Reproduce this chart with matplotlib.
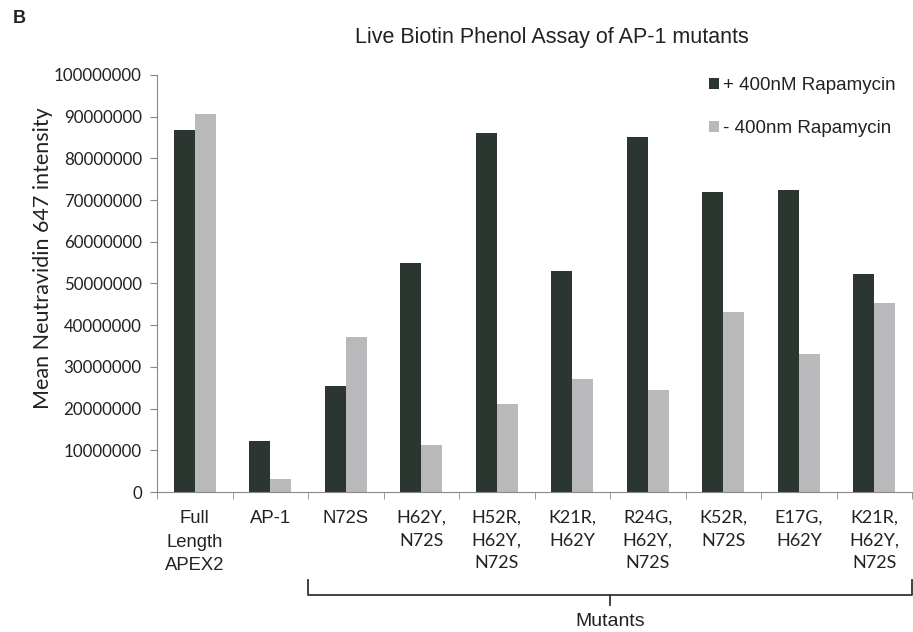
import numpy as np
import matplotlib.pyplot as plt
from matplotlib.transforms import blended_transform_factory

categories = ['Full\nLength\nAPEX2', 'AP-1', 'N72S', 'H62Y,\nN72S', 'H52R,\nH62Y,\nN72S',
              'K21R,\nH62Y', 'R24G,\nH62Y,\nN72S', 'K52R,\nN72S', 'E17G,\nH62Y', 'K21R,\nH62Y,\nN72S']
with_rapa = [86800000, 12200000, 25500000, 55000000, 86000000, 53000000, 85000000, 72000000, 72500000, 52200000]
without_rapa = [90700000, 3200000, 37200000, 11200000, 21200000, 27000000, 24500000, 43200000, 33200000, 45300000]
yticks = np.arange(0, 100000001, 10000000)

dark = '#2b3630'
light = '#b9b9bb'
arial = 'Liberation Sans'
cal = 'Lato'

fig = plt.figure(figsize=(9.13, 6.32), dpi=100)
ax = fig.add_axes([0.172, 0.2215, 0.827, 0.66])

x = np.arange(len(categories))
w = 0.28
ax.bar(x - w / 2, with_rapa, w, color=dark, label='+ 400nM Rapamycin')
ax.bar(x + w / 2, without_rapa, w, color=light, label='- 400nm Rapamycin')

ax.set_xlim(-0.5, len(categories) - 0.5)
ax.set_ylim(0, 100000000)
ax.set_yticks(yticks)
ax.set_yticklabels([str(v) for v in yticks], fontfamily=cal, fontsize=12.2, color='#222222')
ax.set_xticks(x)
ax.set_xticklabels(categories, color='#222222', linespacing=1.5)
for i, lab in enumerate(ax.get_xticklabels()):
    if i < 3:
        lab.set_fontfamily(arial)
        lab.set_fontsize(13.3)
    else:
        lab.set_fontfamily(cal)
        lab.set_fontsize(13)
ax.set_xticks(np.arange(-0.5, len(categories)), minor=True)
ax.tick_params(axis='x', which='major', length=0, pad=13)
ax.tick_params(axis='x', which='minor', length=5, color='#888888')
ax.tick_params(axis='y', length=5, color='#888888', pad=6)

for s in ['top', 'right']:
    ax.spines[s].set_visible(False)
for s in ['left', 'bottom']:
    ax.spines[s].set_color('#888888')

fig.text(0.047, 1 - 258 / 632, 'Mean Neutravidin 647 intensity', rotation=90, ha='center', va='center',
         fontfamily=cal, fontsize=15.5, color='#222222')
fig.text(0.604, 0.94, 'Live Biotin Phenol Assay of AP-1 mutants', ha='center', va='center',
         fontfamily=arial, fontsize=15.5, color='#222222')
fig.text(0.014, 0.97, 'B', ha='left', va='center', fontfamily=arial, fontsize=13,
         fontweight='bold', color='#222222')

leg = ax.legend(loc='upper right', bbox_to_anchor=(1.0, 1.035), frameon=False,
                prop={'family': arial, 'size': 13.5}, handlelength=0.5, handleheight=0.5,
                handletextpad=0.2, labelspacing=1.4, labelcolor='#222222')

# bracket for the mutants
tr = blended_transform_factory(ax.transData, fig.transFigure)
y_line = 1 - 595 / 632
y_top = 1 - 580 / 632
y_stem = 1 - 605 / 632
ax.plot([1.5, 1.5, 9.5, 9.5], [y_top, y_line, y_line, y_top], color='#333333', lw=1.3,
        transform=tr, clip_on=False)
ax.plot([5.5, 5.5], [y_line, y_stem], color='#333333', lw=1.3, transform=tr, clip_on=False)
ax.text(5.5, 1 - 622 / 632, 'Mutants', transform=tr, ha='center', va='center',
        fontfamily=arial, fontsize=14, color='#222222')

fig.savefig('out.png', dpi=100)
